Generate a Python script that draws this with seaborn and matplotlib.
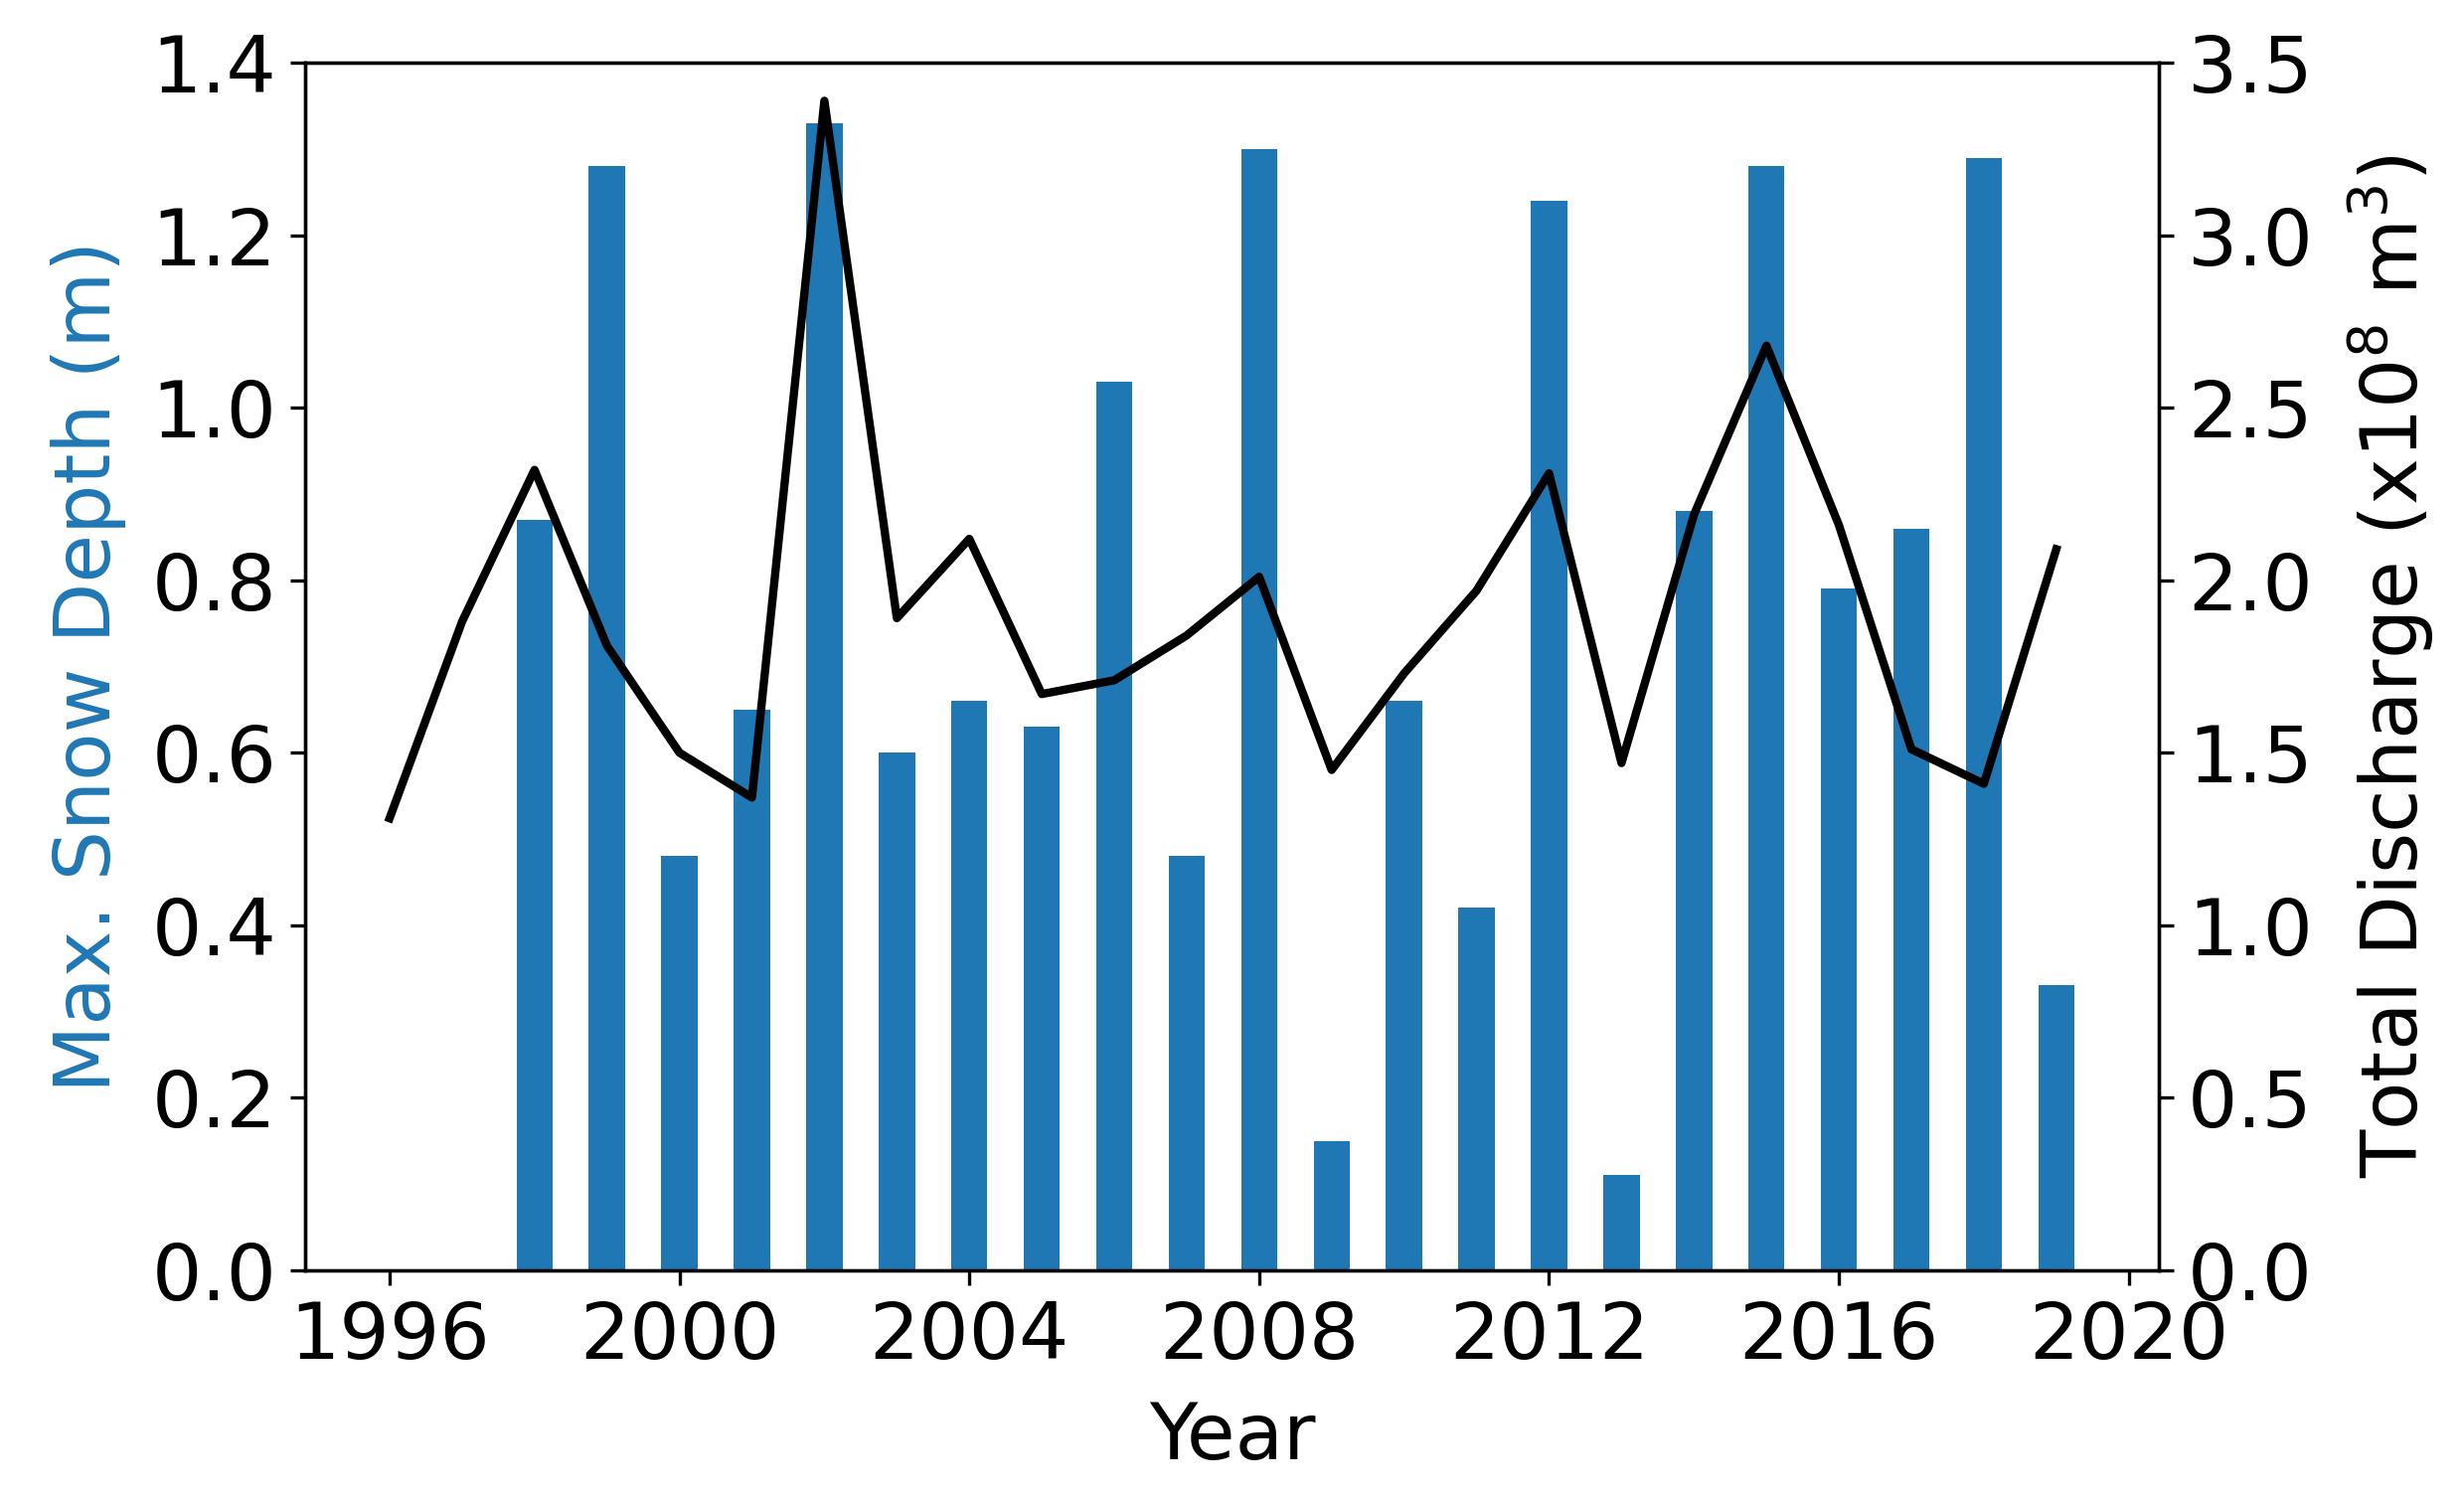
import matplotlib
matplotlib.use("Agg")
import matplotlib.pyplot as plt
import pandas as pd
import seaborn as sns

# yearly maximum snow depth (m), bars
snow_years = [1998, 1999, 2000, 2001, 2002, 2003, 2004, 2005, 2006, 2007, 2008,
              2009, 2010, 2011, 2012, 2013, 2014, 2015, 2016, 2017, 2018, 2019]
snow_depth = [0.87, 1.28, 0.48, 0.65, 1.33, 0.60, 0.66, 0.63, 1.03, 0.48, 1.30,
              0.15, 0.66, 0.42, 1.24, 0.11, 0.88, 1.28, 0.79, 0.86, 1.29, 0.33]

# total discharge (x10^8 m^3), line
q_years = list(range(1996, 2020))
discharge = [1.31, 1.88, 2.32, 1.81, 1.50, 1.37, 3.39, 1.89, 2.12, 1.67, 1.71, 1.84,
             2.01, 1.45, 1.73, 1.97, 2.31, 1.47, 2.19, 2.68, 2.16, 1.51, 1.41, 2.09]

xticks = [1996, 2000, 2004, 2008, 2012, 2016, 2020]

snow = pd.DataFrame({"year": snow_years, "depth": snow_depth})
flow = pd.DataFrame({"year": q_years, "q": discharge})

plt.rcParams["font.family"] = ["DejaVu Sans"]
FS = 19

fig, ax = plt.subplots(figsize=(2479 / 300, 1505 / 300), dpi=300)
fig.subplots_adjust(left=0.124, right=0.876, top=0.958, bottom=0.151)

sns.barplot(data=snow, x="year", y="depth", native_scale=True, width=0.5,
            color="#1f77b4", saturation=1, errorbar=None, ax=ax)
ax.set_ylim(0, 1.4)
ax.set_xlim(1994.84, 2020.41)
ax.set_xticks(xticks)
ax.set_xlabel("Year", fontsize=FS, labelpad=6)
ax.set_ylabel("Max. Snow Depth (m)", color="#1f77b4", fontsize=FS, labelpad=6)

ax2 = ax.twinx()
sns.lineplot(data=flow, x="year", y="q", color="k", linewidth=2, ax=ax2)
ax2.set_ylim(0, 3.5)
ax2.set_xlim(1994.84, 2020.41)
ax2.set_ylabel("Total Discharge (x10$^8$ m$^3$)", fontsize=FS, labelpad=8)

for a in (ax, ax2):
    a.tick_params(labelsize=FS)

fig.savefig("out.png", dpi=300)
